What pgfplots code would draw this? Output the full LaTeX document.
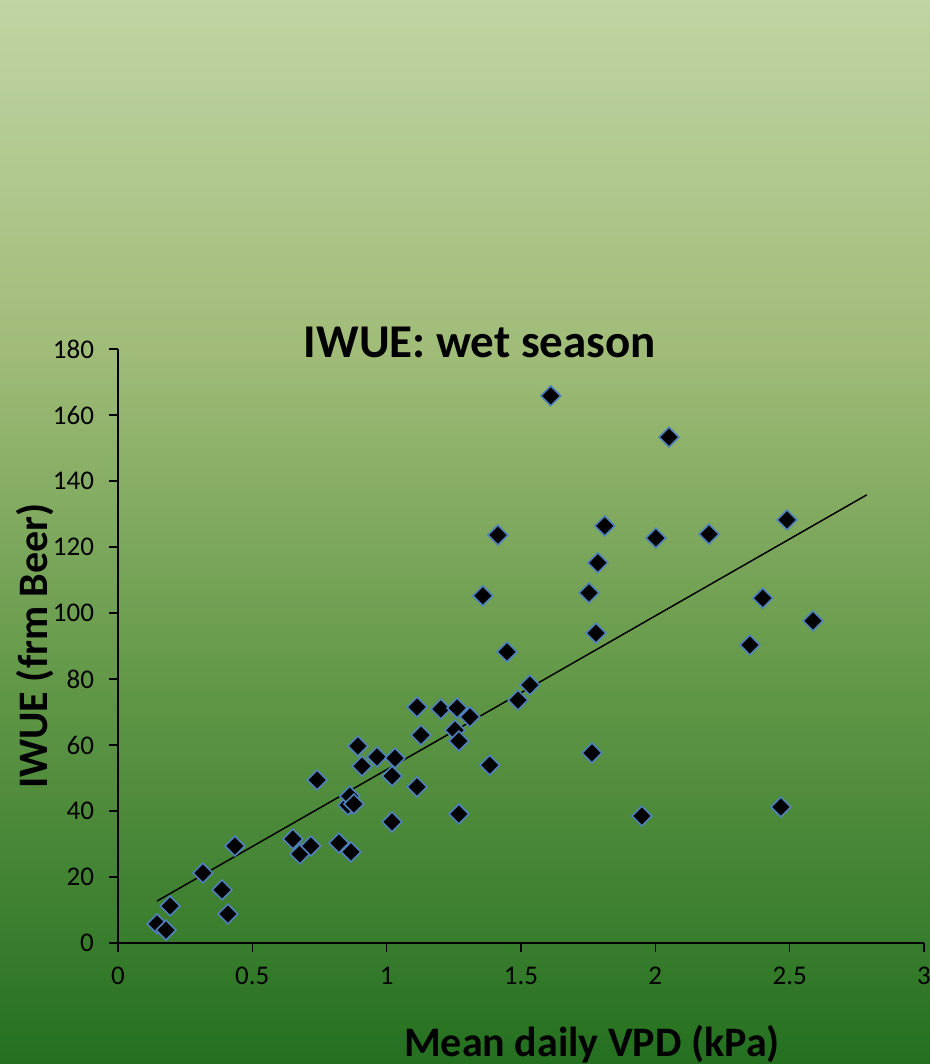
\documentclass[border=0pt]{standalone}
\usepackage{pgfplots}
\pgfplotsset{compat=1.18}
\usepackage{fontspec}
\setmainfont{Carlito}
\definecolor{bgA}{RGB}{193,212,164}
\definecolor{bgB}{RGB}{160,188,120}
\definecolor{bgC}{RGB}{98,152,72}
\definecolor{bgD}{RGB}{36,112,32}
\definecolor{mkedge}{RGB}{79,129,189}
\begin{document}
\begin{tikzpicture}
\useasboundingbox (0,0) rectangle (465pt,532pt);
% background gradient (1px = 0.5pt)
\shade[top color=bgA, bottom color=bgB] (0,356pt) rectangle (465pt,532pt);
\shade[top color=bgB, bottom color=bgC] (0,191pt) rectangle (465pt,356.5pt);
\shade[top color=bgC, bottom color=bgD] (0,0) rectangle (465pt,191.5pt);
\begin{axis}[
  scale only axis,
  width=403pt, height=297pt,
  at={(59pt,60.5pt)}, anchor=south west,
  xmin=0, xmax=3, ymin=0, ymax=180,
  axis x line*=bottom, axis y line*=left,
  axis line style={line width=0.7pt},
  tick align=outside,
  major tick length=4.5pt,
  tick style={black, line width=0.7pt},
  xtick={0,0.5,1,1.5,2,2.5,3},
  ytick={0,20,...,180},
  /pgf/number format/assume math mode=true,
  ticklabel style={font=\fontsize{13.5}{16}\selectfont},
  xticklabel style={yshift=-4pt},
  yticklabel style={xshift=-4pt},
  clip=false,
]
\addplot [black, line width=0.75pt] coordinates {(0.145,12.7) (2.787,135.8)};
\addplot [only marks, mark=square*, mark size=3.5pt,
  mark options={rotate=45, fill=black, draw=mkedge, line width=0.8pt}]
  table {
x y
0.145 5.8
0.179 3.9
0.194 11.2
0.316 21.2
0.387 16.1
0.409 8.8
0.435 29.4
0.651 31.5
0.677 27.0
0.718 29.4
0.741 49.4
0.822 30.3
0.856 41.8
0.863 44.5
0.878 42.1
0.867 27.6
0.893 59.7
0.908 53.6
0.964 56.4
1.020 50.6
1.031 56.0
1.020 36.7
1.113 71.5
1.113 47.3
1.128 63.0
1.202 70.9
1.254 64.5
1.262 71.2
1.269 61.2
1.269 39.1
1.310 68.5
1.358 105.2
1.384 53.9
1.414 123.6
1.448 88.2
1.489 73.6
1.533 78.2
1.611 165.8
1.753 106.1
1.764 57.6
1.779 93.9
1.786 115.2
1.812 126.4
1.950 38.5
2.002 122.7
2.051 153.3
2.200 123.9
2.352 90.3
2.400 104.5
2.467 41.2
2.490 128.2
2.587 97.6
};
\end{axis}
\node[font=\bfseries\fontsize{23.5}{28}\selectfont, anchor=center] at (240pt,361pt) {IWUE: wet season};
\node[font=\bfseries\fontsize{21}{25}\selectfont, anchor=base] at (296pt,4pt) {Mean daily VPD (kPa)};
\node[font=\bfseries\fontsize{21}{25}\selectfont, rotate=90, anchor=center] at (17.5pt,209pt) {IWUE (frm Beer)};
\end{tikzpicture}
\end{document}
